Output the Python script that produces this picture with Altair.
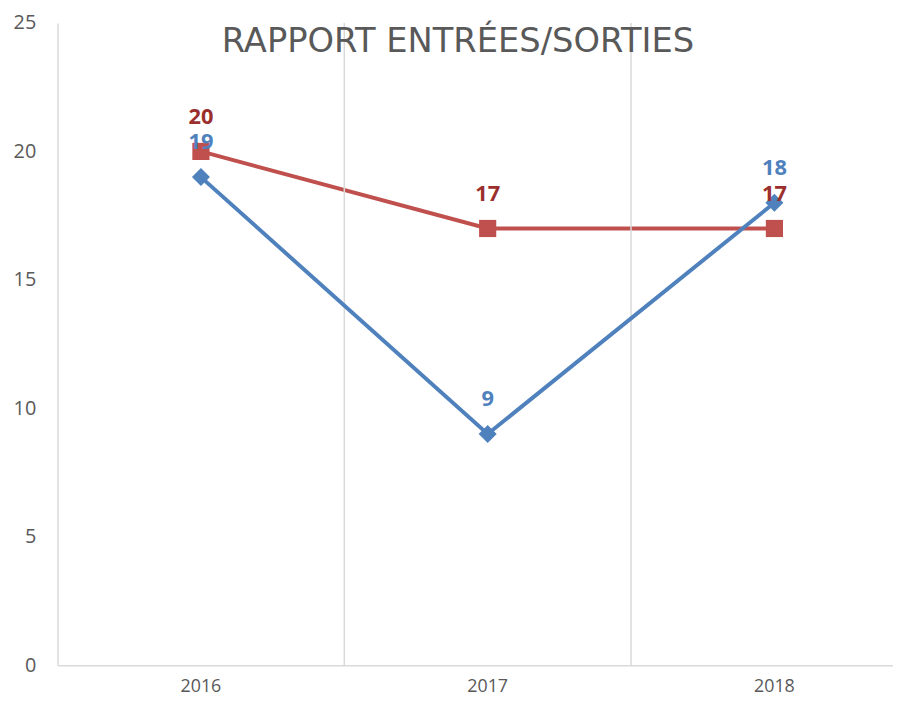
import altair as alt
import pandas as pd

years = ["2016", "2017", "2018"]
entrees = [19, 9, 18]
sorties = [20, 17, 17]
series = ["Entrées", "Sorties"]
line_colors = ["#4F81BD", "#C0504D"]
label_colors = ["#4F81BD", "#9B2F2D"]
title_text = "RAPPORT ENTRÉES/SORTIES"

rows = []
for i, y in enumerate(years):
    rows.append({"annee": y, "serie": series[0], "valeur": entrees[i]})
    rows.append({"annee": y, "serie": series[1], "valeur": sorties[i]})
df = pd.DataFrame(rows)

W, H = 843, 648
FONT = "Open Sans"
GRAY = "#595959"
GRID = "#D9D9D9"

xs = alt.Scale(type="band", domain=years, range=[0, 868], paddingInner=0, paddingOuter=0)
ys = alt.Scale(domain=[0, 25], nice=False)

x_axis = alt.Axis(title=None, labels=True, ticks=False, domain=True,
                  labelFont=FONT, labelFontSize=18, labelColor=GRAY,
                  labelPadding=13, labelAngle=0,
                  domainColor=GRID, domainWidth=1.5, grid=False)
x_enc = alt.X("annee:N", scale=xs, sort=years, axis=x_axis)
y_enc = alt.Y("valeur:Q", scale=ys,
              axis=alt.Axis(title=None, values=[0, 5, 10, 15, 20, 25], grid=False,
                            ticks=False, domainColor=GRID, domainWidth=1.5,
                            labelFont=FONT, labelFontSize=20, labelColor=GRAY,
                            labelPadding=22))

col = alt.Color("serie:N", scale=alt.Scale(domain=series, range=line_colors), legend=None)

base = alt.Chart(df)

# vertical separators at the boundaries between categories
grid_layer = alt.Chart(pd.DataFrame({"annee": years[1:]})).mark_rule(
    color=GRID, strokeWidth=1.5).encode(
    x=alt.X("annee:N", scale=xs, sort=years, bandPosition=0, axis=x_axis))

red_line = base.transform_filter(alt.datum.serie == series[1]).mark_line(strokeWidth=4).encode(
    x=x_enc, y=y_enc, color=col)
red_pts = base.transform_filter(alt.datum.serie == series[1]).mark_point(
    shape="square", filled=True, size=300, opacity=1).encode(x=x_enc, y=y_enc, color=col)
blue_line = base.transform_filter(alt.datum.serie == series[0]).mark_line(strokeWidth=4).encode(
    x=x_enc, y=y_enc, color=col)
blue_pts = base.transform_filter(alt.datum.serie == series[0]).mark_point(
    shape="diamond", filled=True, size=330, opacity=1).encode(x=x_enc, y=y_enc, color=col)

labels = base.mark_text(font=FONT, fontSize=22, fontWeight="bold", dy=-35, baseline="middle").encode(
    x=x_enc, y=y_enc, text=alt.Text("valeur:Q"),
    color=alt.Color("serie:N", scale=alt.Scale(domain=series, range=label_colors), legend=None))

title = alt.Chart(pd.DataFrame({"t": [title_text]})).mark_text(
    font="DejaVu Sans", fontSize=34, color=GRAY, baseline="middle", align="center").encode(
    x=alt.value(404), y=alt.value(19), text="t:N")

chart = alt.layer(red_line, grid_layer, blue_line, red_pts, blue_pts, labels, title).resolve_scale(
    color="independent").properties(
    width=W, height=H,
    autosize=alt.AutoSizeParams(type="none"),
    padding={"left": 50, "top": 12, "right": 0, "bottom": 30},
).configure_view(stroke=None)

chart.save("out.html", embed_options={"renderer": "svg", "actions": False})
